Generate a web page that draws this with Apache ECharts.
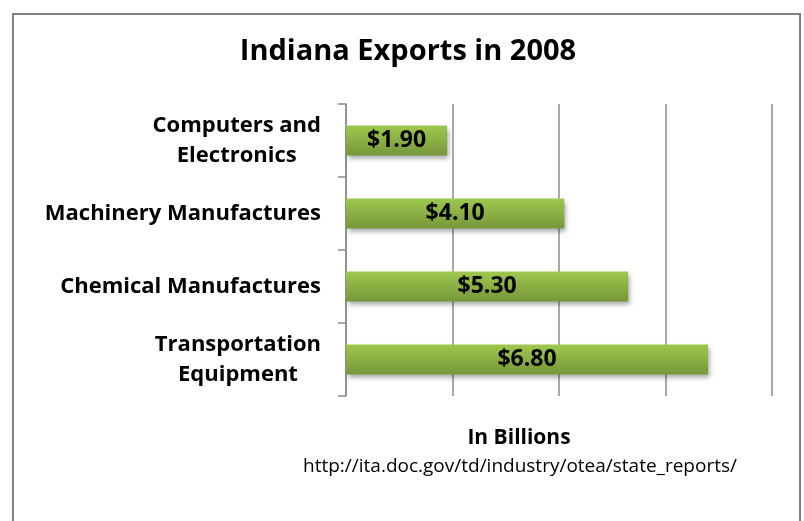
<!DOCTYPE html>
<html><head><meta charset="utf-8">
<script src="https://cdn.jsdelivr.net/npm/echarts@6/dist/echarts.min.js"></script>
<style>html,body{margin:0;padding:0;background:#fff}#c{width:804px;height:521px}</style>
</head><body><div id="c"></div>
<script>
const categories = ['Computers and\nElectronics', 'Machinery Manufactures', 'Chemical Manufactures', 'Transportation\nEquipment'];
const values = [1.90, 4.10, 5.30, 6.80];
const xTicks = [0, 2, 4, 6, 8];
const titleText = 'Indiana Exports in 2008';
const axisTitle = 'In Billions';
const sourceText = 'http://ita.doc.gov/td/industry/otea/state_reports/';

const FONT = '"Open Sans", Lato, sans-serif';
const chart = echarts.init(document.getElementById('c'), null, {renderer: 'canvas'});
chart.setOption({
  backgroundColor: '#fff',
  animation: false,
  graphic: [
    {type: 'rect', shape: {x: 13, y: 14, width: 787, height: 520}, style: {fill: 'none', stroke: '#808080', lineWidth: 2}, silent: true},
    {type: 'text', x: 408, y: 52, style: {text: titleText, fontFamily: FONT, fontWeight: 'bold', fontSize: 29, fill: '#000', textAlign: 'center', textVerticalAlign: 'middle'}},
    {type: 'text', x: 519, y: 438, style: {text: axisTitle, fontFamily: FONT, fontWeight: 'bold', fontSize: 21, fill: '#000', textAlign: 'center', textVerticalAlign: 'middle'}},
    {type: 'text', x: 520, y: 467, style: {text: sourceText, fontFamily: FONT, fontSize: 19, fill: '#000', textAlign: 'center', textVerticalAlign: 'middle'}}
  ],
  grid: {left: 346, top: 104, width: 426, height: 292, containLabel: false},
  xAxis: {
    type: 'value', min: xTicks[0], max: xTicks[xTicks.length - 1], interval: 2,
    axisLabel: {show: false}, axisTick: {show: false}, axisLine: {show: false},
    splitLine: {show: true, lineStyle: {color: '#8c8c8c', width: 1.5}}
  },
  yAxis: {
    type: 'category', data: categories, inverse: true,
    axisLine: {show: true, lineStyle: {color: '#8c8c8c', width: 1.5}},
    axisTick: {show: true, length: 8, lineStyle: {color: '#8c8c8c', width: 1.5}},
    axisLabel: {
      fontFamily: FONT, fontWeight: 'bold', fontSize: 22, color: '#000', margin: 25, align: 'right', lineHeight: 30,
      formatter: v => v.split('\n').map(s => '{c|' + s + '}').join('\n'),
      rich: {c: {align: 'center', fontFamily: FONT, fontWeight: 'bold', fontSize: 22, lineHeight: 30, color: '#000'}}
    }
  },
  series: [{
    type: 'bar', data: values, barWidth: 30,
    itemStyle: {
      color: new echarts.graphic.LinearGradient(0, 0, 0, 1, [
        {offset: 0, color: '#9ec84d'},
        {offset: 1, color: '#76973a'}
      ]),
      shadowBlur: 5, shadowOffsetX: 2, shadowOffsetY: 3, shadowColor: 'rgba(0,0,0,0.35)'
    },
    label: {
      show: true, position: 'inside', fontFamily: FONT, fontWeight: 'bold', fontSize: 23, color: '#000',
      formatter: p => '$' + p.value.toFixed(2)
    }
  }]
});
</script></body></html>
